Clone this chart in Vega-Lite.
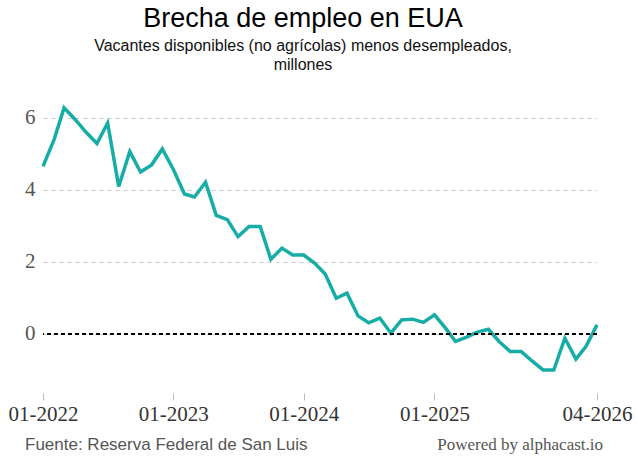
{
  "$schema": "https://vega.github.io/schema/vega-lite/v6.json",
  "autosize": {"type": "none"},
  "width": 554,
  "height": 292,
  "padding": {"left": 43, "top": 96, "right": 41, "bottom": 79},
  "background": "white",
  "title": {
    "text": "Brecha de empleo en EUA",
    "subtitle": ["Vacantes disponibles (no agrícolas) menos desempleados,", "millones"],
    "anchor": "middle",
    "frame": "group",
    "dx": -17,
    "offset": 22,
    "font": "Liberation Sans",
    "fontSize": 27,
    "fontWeight": "normal",
    "color": "#000000",
    "subtitleFont": "Liberation Sans",
    "subtitleFontSize": 16,
    "subtitleColor": "#111111",
    "subtitlePadding": 5,
    "subtitleLineHeight": 19
  },
  "config": {
    "view": {"stroke": null}
  },
  "data": {
    "values": [
      {"date": "2022-01-01", "value": 4.65},
      {"date": "2022-02-01", "value": 5.39},
      {"date": "2022-03-01", "value": 6.27},
      {"date": "2022-04-01", "value": 5.95},
      {"date": "2022-05-01", "value": 5.6},
      {"date": "2022-06-01", "value": 5.28},
      {"date": "2022-07-01", "value": 5.85},
      {"date": "2022-08-01", "value": 4.09},
      {"date": "2022-09-01", "value": 5.06},
      {"date": "2022-10-01", "value": 4.49},
      {"date": "2022-11-01", "value": 4.69},
      {"date": "2022-12-01", "value": 5.13},
      {"date": "2023-01-01", "value": 4.56},
      {"date": "2023-02-01", "value": 3.88},
      {"date": "2023-03-01", "value": 3.8},
      {"date": "2023-04-01", "value": 4.21},
      {"date": "2023-05-01", "value": 3.29},
      {"date": "2023-06-01", "value": 3.17},
      {"date": "2023-07-01", "value": 2.7},
      {"date": "2023-08-01", "value": 2.98},
      {"date": "2023-09-01", "value": 2.98},
      {"date": "2023-10-01", "value": 2.07},
      {"date": "2023-11-01", "value": 2.38},
      {"date": "2023-12-01", "value": 2.19},
      {"date": "2024-01-01", "value": 2.19},
      {"date": "2024-02-01", "value": 1.96},
      {"date": "2024-03-01", "value": 1.66},
      {"date": "2024-04-01", "value": 0.99},
      {"date": "2024-05-01", "value": 1.13},
      {"date": "2024-06-01", "value": 0.5},
      {"date": "2024-07-01", "value": 0.31},
      {"date": "2024-08-01", "value": 0.44},
      {"date": "2024-09-01", "value": 0.02},
      {"date": "2024-10-01", "value": 0.39},
      {"date": "2024-11-01", "value": 0.41},
      {"date": "2024-12-01", "value": 0.32},
      {"date": "2025-01-01", "value": 0.53},
      {"date": "2025-02-01", "value": 0.16},
      {"date": "2025-03-01", "value": -0.21},
      {"date": "2025-04-01", "value": -0.09},
      {"date": "2025-05-01", "value": 0.05},
      {"date": "2025-06-01", "value": 0.13},
      {"date": "2025-07-01", "value": -0.21},
      {"date": "2025-08-01", "value": -0.49},
      {"date": "2025-09-01", "value": -0.49},
      {"date": "2025-10-01", "value": -0.75},
      {"date": "2025-11-01", "value": -1.0},
      {"date": "2025-12-01", "value": -1.0},
      {"date": "2026-01-01", "value": -0.12},
      {"date": "2026-02-01", "value": -0.7},
      {"date": "2026-03-01", "value": -0.35},
      {"date": "2026-04-01", "value": 0.25}
    ]
  },
  "layer": [
    {
      "mark": {"type": "line", "color": "#15ADA6", "strokeWidth": 3.5, "strokeJoin": "miter"},
      "encoding": {
        "x": {
          "field": "date",
          "type": "temporal",
          "scale": {
            "type": "utc",
            "domain": [
              {"year": 2022, "month": 1, "date": 1, "utc": true},
              {"year": 2026, "month": 4, "date": 1, "utc": true}
            ]
          },
          "axis": {
            "title": null,
            "values": [
              {"year": 2022, "month": 1, "date": 1, "utc": true},
              {"year": 2023, "month": 1, "date": 1, "utc": true},
              {"year": 2024, "month": 1, "date": 1, "utc": true},
              {"year": 2025, "month": 1, "date": 1, "utc": true},
              {"year": 2026, "month": 4, "date": 1, "utc": true}
            ],
            "labelExpr": "utcFormat(datum.value, '%m-%Y')",
            "grid": false,
            "domain": false,
            "offset": 5,
            "ticks": true,
            "tickColor": "#bbbbbb",
            "tickSize": 7,
            "labelFont": "Liberation Serif",
            "labelFontSize": 21,
            "labelColor": "#333333",
            "labelPadding": 3,
            "labelFlush": false,
            "labelOverlap": false
          }
        },
        "y": {
          "field": "value",
          "type": "quantitative",
          "scale": {"domain": [-1.5, 6.6], "nice": false, "zero": false},
          "axis": {
            "title": null,
            "values": [0, 2, 4, 6],
            "grid": true,
            "gridColor": "#cccccc",
            "gridDash": [4, 4],
            "gridWidth": 1,
            "domain": false,
            "ticks": false,
            "labelFont": "Liberation Serif",
            "labelFontSize": 21,
            "labelColor": "#555555",
            "labelPadding": 8
          }
        }
      }
    },
    {
      "mark": {"type": "rule", "color": "#000000", "strokeWidth": 1, "strokeDash": [4, 3]},
      "encoding": {"y": {"datum": 0}}
    },
    {
      "data": {"values": [{"t": "Fuente: Reserva Federal de San Luis"}]},
      "mark": {"type": "text", "align": "left", "baseline": "middle", "dx": -18, "font": "Liberation Sans", "fontSize": 17, "color": "#555555"},
      "encoding": {
        "text": {"field": "t"},
        "x": {"datum": {"year": 2022, "month": 1, "date": 1, "utc": true}, "type": "temporal"},
        "y": {"datum": -3.08}
      }
    },
    {
      "data": {"values": [{"t": "Powered by alphacast.io"}]},
      "mark": {"type": "text", "align": "right", "baseline": "middle", "dx": 6, "font": "Liberation Serif", "fontSize": 17, "color": "#555555"},
      "encoding": {
        "text": {"field": "t"},
        "x": {"datum": {"year": 2026, "month": 4, "date": 1, "utc": true}, "type": "temporal"},
        "y": {"datum": -3.08}
      }
    }
  ]
}
